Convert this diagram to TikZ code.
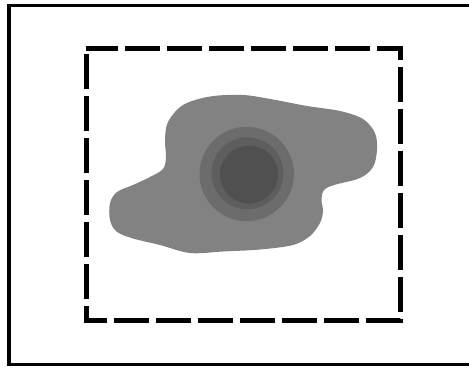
\documentclass[tikz,border=0pt]{standalone}
\usetikzlibrary{calc}
\definecolor{blobgray}{RGB}{130,130,130}
\definecolor{ringouter}{RGB}{108,108,108}
\definecolor{ringmid}{RGB}{94,94,94}
\definecolor{ringinner}{RGB}{80,80,80}
\tikzset{
  frame/.style={draw=black, line width=3.5pt},
  region/.style={draw=black, line width=5pt, dash pattern=on 35pt off 7pt, dash phase=3pt},
  blob/.style={fill=blobgray, draw=none},
}
\begin{document}
\begin{tikzpicture}[x=1pt,y=-1pt]
  \useasboundingbox (0,0) rectangle (469,370);
  \fill[white] (0,0) rectangle (469,370);
  % outer frame (its right side runs just past the page edge)
  \draw[frame] (9,5.5) rectangle (470.6,364.5);
  % dashed region
  \coordinate (tl) at (86,48);
  \coordinate (tr) at (400,48);
  \coordinate (br) at (400,320);
  \coordinate (bl) at (86,320);
  \draw[region] (tl) -- (tr) -- (br) -- (bl) -- cycle;
  % irregular gray body
  \fill[blob] plot[smooth cycle, tension=0.55] coordinates {
    (165,140) (168,122) (183,105) (210,96.5) (243,95) (273,99.5)
    (307,106) (340,111) (363,119) (375,133) (377,150) (373,167)
    (360,178) (334,185) (324,190) (321.5,200) (323,211) (320,223)
    (310,236) (293,245) (260,249.5) (223,251.5) (190,253)
    (160,245) (133,238.5) (116.5,231.5) (110,220) (110,203)
    (117,192) (133,185) (150,177) (163,169) (166,157)
  };
  % concentric discs
  \fill[ringouter] (246.7,174) circle (47.2);
  \fill[ringmid] (247.5,173.3) circle (36);
  \fill[ringinner] (249,174.6) circle (29);
\end{tikzpicture}
\end{document}
